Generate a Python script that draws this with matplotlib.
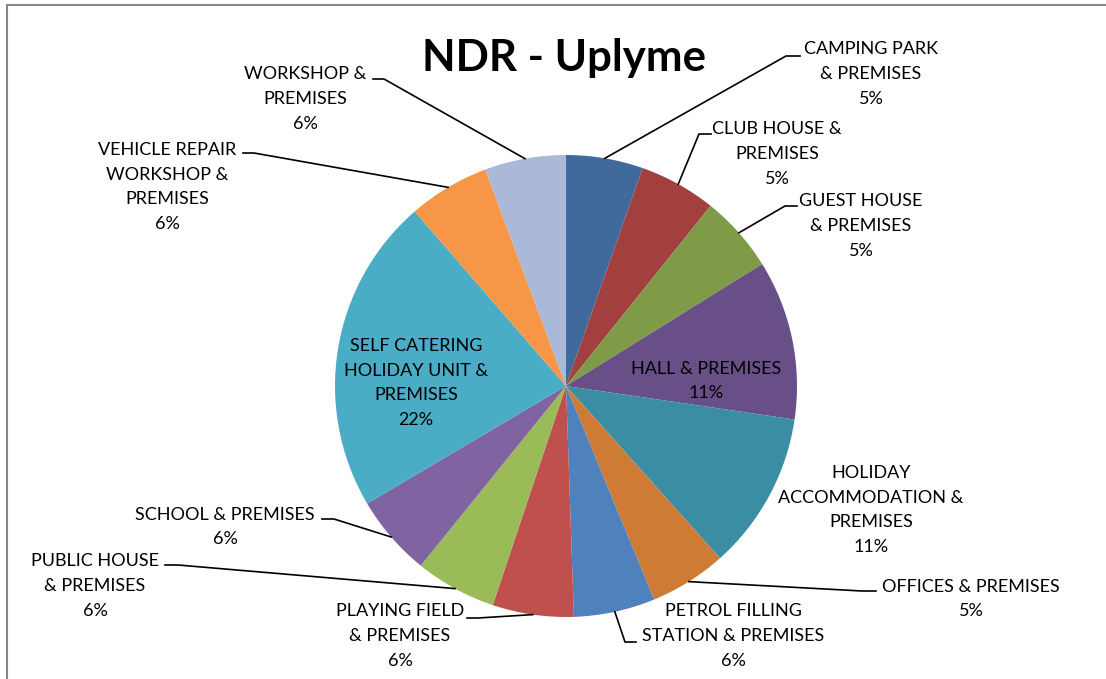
import numpy as np
import matplotlib.pyplot as plt

# categories (clockwise from 12 o'clock) and their shares
names = ["CAMPING PARK\n& PREMISES", "CLUB HOUSE &\nPREMISES", "GUEST HOUSE\n& PREMISES",
         "HALL & PREMISES", "HOLIDAY\nACCOMMODATION &\nPREMISES", "OFFICES & PREMISES",
         "PETROL FILLING\nSTATION & PREMISES", "PLAYING FIELD\n& PREMISES", "PUBLIC HOUSE\n& PREMISES",
         "SCHOOL & PREMISES", "SELF CATERING\nHOLIDAY UNIT &\nPREMISES", "VEHICLE REPAIR\nWORKSHOP &\nPREMISES",
         "WORKSHOP &\nPREMISES"]
values = [5.4, 5.4, 5.4, 11.2, 11.1, 5.4, 5.7, 5.7, 5.7, 5.7, 22.2, 5.7, 5.7]
colors = ['#3F6A9B', '#A1403E', '#7F9B48', '#684F87', '#3A8DA3', '#CE7B36', '#4F81BD',
          '#C0504D', '#9BBB59', '#8064A2', '#4BACC6', '#F79646', '#AAB9D7']

# label layout in pixels from top-left: text centre, leader elbow, leader end
W, H = 1106, 679
txt_pos = [(871, 74), (777, 154), (861, 226), (706, 381), (871, 510), (971, 599), (733, 636),
           (400, 636), (95, 586), (225, 527), (416, 383), (167, 187), (305, 99)]
elbow = [(786, 56), (699, 134), (785, 206), None, None, (862, 591), (625, 642),
         (478, 618), (178, 565), (334, 519), None, (254, 153), (384, 79)]
lend = [(800, 56), (711, 134), (797, 206), None, None, (876, 591), (636, 642),
        (467, 618), (165, 565), (322, 519), None, (243, 153), (373, 79)]

plt.rcParams['font.family'] = ['Lato', 'DejaVu Sans']
fig = plt.figure(figsize=(W/100, H/100), dpi=100)
ax = fig.add_axes([0, 0, 1, 1])
cx, cy, R = 566, H-386, 231
wedges, _ = ax.pie(values, colors=colors, startangle=90, counterclock=False,
                   center=(cx, cy), radius=R, wedgeprops=dict(linewidth=0))
ax.set_xlim(0, W)
ax.set_ylim(0, H)
ax.set_aspect('equal')
ax.axis('off')

total = sum(values)
for i, w in enumerate(wedges):
    pct = round(values[i]/total*100)
    tx, ty = txt_pos[i]
    ax.text(tx, H-ty, names[i] + "\n" + str(pct) + "%", ha='center', va='center',
            multialignment='center', fontsize=13, linespacing=1.68, color='black')
    if elbow[i] is not None:
        a = np.deg2rad((w.theta1 + w.theta2)/2)
        x0, y0 = cx + R*np.cos(a), cy + R*np.sin(a)
        ax.plot([x0, elbow[i][0], lend[i][0]], [y0, H-elbow[i][1], H-lend[i][1]],
                color='black', lw=1.2)

ax.text(564, H-58, "NDR - Uplyme", ha='center', va='center', fontsize=31.5, fontweight='bold')

# chart area border
ax.plot([7, 7, W+5], [-5, H-5, H-5], color='#868686', lw=1.5, clip_on=False)

fig.savefig('out.png', dpi=100)
